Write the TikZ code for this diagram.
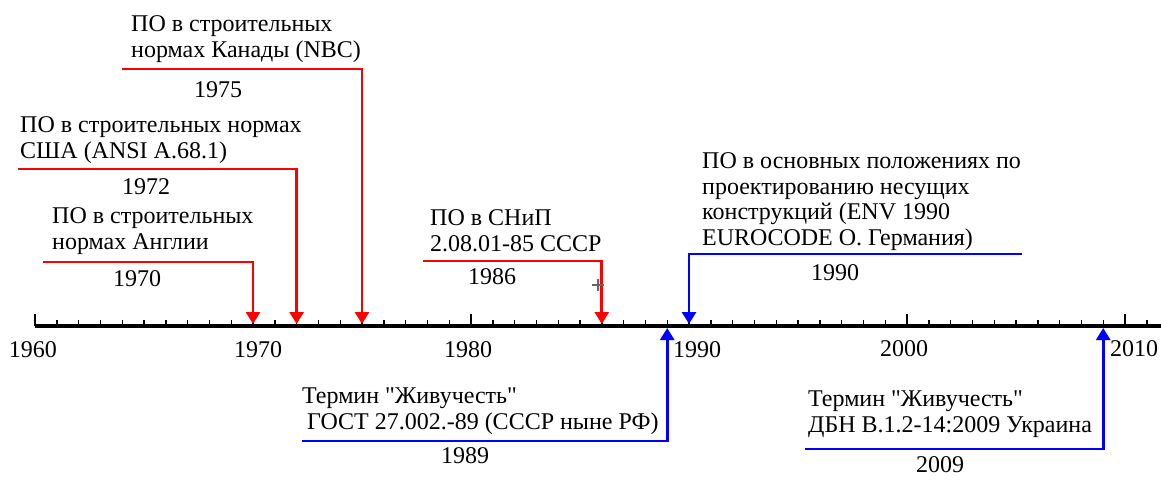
\documentclass[tikz,border=0pt]{standalone}
\usepackage{fontspec}
\setmainfont{Liberation Serif}[Ligatures=TeXOff]
\usetikzlibrary{arrows.meta}
\begin{document}
\begin{tikzpicture}[x=1pt,y=-1pt,
  txt/.style={anchor=base west, align=left, inner sep=0pt, font=\fontsize{24}{25.5}\selectfont},
  yr/.style={anchor=base, inner sep=0pt, font=\fontsize{24}{25.5}\selectfont},
  redarr/.style={draw=red, line width=2.7pt, -{Triangle[width=14pt,length=12pt]}},
  bluearr/.style={draw=blue, line width=2.7pt, -{Triangle[width=14pt,length=12pt]}},
  axisln/.style={line width=4pt},
  tickln/.style={line width=1.4pt}
]
\useasboundingbox (0,0) rectangle (1161,479);
% axis
\coordinate (ax0) at (35,326);
\coordinate (ax1) at (1161,326);
\draw[axisln] (ax0) -- (ax1);
\foreach \i in {0,...,51}{
  \pgfmathsetmacro{\xx}{35+21.8*\i}
  \pgfmathtruncatemacro{\mm}{mod(\i,10)}
  \ifnum\mm=0
    \draw[tickln] (\xx,326) -- (\xx,314);
  \else
    \draw[tickln] (\xx,326) -- (\xx,320);
  \fi
}
% year labels on axis
\node[yr] (y1960) at (33,357) {1960};
\node[yr] (y1970) at (258,357) {1970};
\node[yr] (y1980) at (468,357) {1980};
\node[yr] (y1990) at (697,357) {1990};
\node[yr] (y2000) at (904,356) {2000};
\node[yr] (y2010) at (1134,356) {2010};

% 1975
\node[txt] (t1975) at (131,57) {ПО в строительных\\нормах Канады (NBC)};
\node[yr] (l1975) at (218,97) {1975};
\coordinate (h1975) at (122,69);
\coordinate (a1975) at (362,324);
\draw[redarr] (h1975) -| (a1975);

% 1972
\node[txt] (t1972) at (20,158) {ПО в строительных нормах\\США (ANSI A.68.1)};
\node[yr] (l1972) at (146,194) {1972};
\coordinate (h1972) at (18,169);
\coordinate (a1972) at (296.6,324);
\draw[redarr] (h1972) -| (a1972);

% 1970
\node[txt] (t1970) at (52,249) {ПО в строительных\\нормах Англии};
\node[yr] (l1970) at (137,286) {1970};
\coordinate (h1970) at (43,262);
\coordinate (a1970) at (253,324);
\draw[redarr] (h1970) -| (a1970);

% 1986
\node[txt] (t1986) at (430,251) {ПО в СНиП\\2.08.01-85 СССР};
\node[yr] (l1986) at (492,284) {1986};
\coordinate (h1986) at (423,261);
\coordinate (a1986) at (601.8,324);
\draw[redarr] (h1986) -| (a1986);
\draw[black!60, line width=1.2pt] (592,285) -- (604,285) (598,279) -- (598,291);

% 1990
\node[txt] (t1990) at (702,245) {ПО в основных положениях по\\проектированию несущих\\конструкций (ENV 1990\\EUROCODE O. Германия)};
\node[yr] (l1990) at (835,280) {1990};
\coordinate (h1990) at (1022,254);
\coordinate (a1990) at (689,324);
\draw[bluearr] (h1990) -| (a1990);

% 1989
\node[txt] (t1989) at (302,429) {Термин "Живучесть"\\\hspace*{5pt}ГОСТ 27.002.-89 (СССР ныне РФ)};
\node[yr] (l1989) at (465,463) {1989};
\coordinate (h1989) at (302,441);
\coordinate (a1989) at (667.2,328);
\draw[bluearr] (h1989) -| (a1989);

% 2009
\node[txt] (t2009) at (808,432) {Термин "Живучесть"\\ДБН В.1.2-14:2009 Украина};
\node[yr] (l2009) at (940,472) {2009};
\coordinate (h2009) at (805,449);
\coordinate (a2009) at (1103.2,328);
\draw[bluearr] (h2009) -| (a2009);
\end{tikzpicture}
\end{document}
